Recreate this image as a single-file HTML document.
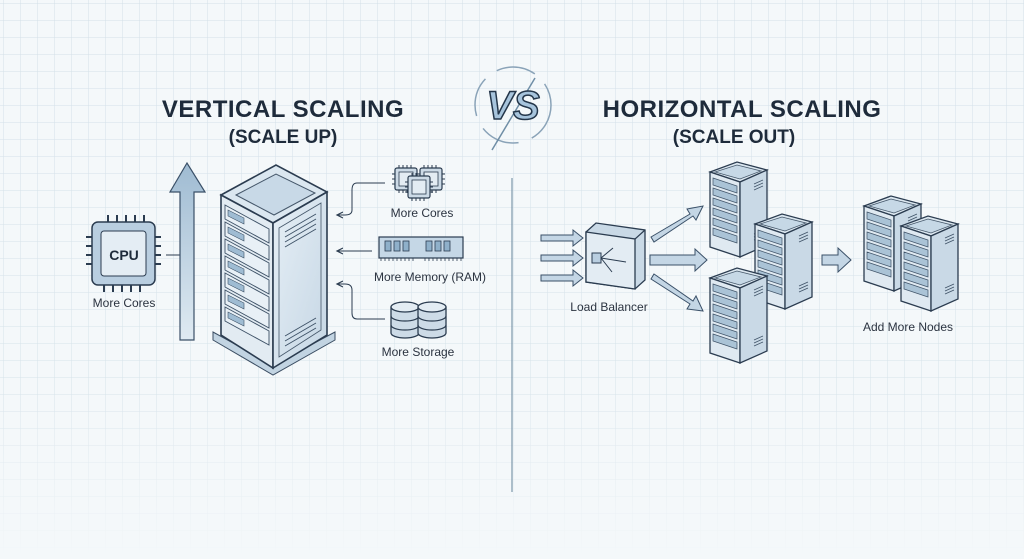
<!DOCTYPE html>
<html><head><meta charset="utf-8"><style>
html,body{margin:0;padding:0;background:#f4f8fa}
svg{display:block}
text{font-family:"Liberation Sans",sans-serif}
</style></head><body>
<svg width="1024" height="559" viewBox="0 0 1024 559" xmlns="http://www.w3.org/2000/svg">
<defs>
<pattern id="grid" width="17" height="17" patternUnits="userSpaceOnUse" x="3" y="3">
<path d="M17 0H0V17" fill="none" stroke="#d3e0e8" stroke-width="1"/>
</pattern>
<linearGradient id="fade" x1="0" y1="0" x2="0" y2="1">
<stop offset="0" stop-color="#fff" stop-opacity="1"/>
<stop offset="0.7" stop-color="#fff" stop-opacity="0.9"/>
<stop offset="1" stop-color="#fff" stop-opacity="0"/>
</linearGradient>
<mask id="m"><rect width="1024" height="559" fill="url(#fade)"/></mask>
<linearGradient id="face" x1="0" y1="0" x2="1" y2="1">
<stop offset="0" stop-color="#e6eff6"/><stop offset="1" stop-color="#c5d6e4"/>
</linearGradient>
<linearGradient id="arr" x1="0" y1="1" x2="0" y2="0">
<stop offset="0" stop-color="#dfeaf2"/><stop offset="1" stop-color="#9fbbd2"/>
</linearGradient>
<g id="srv">
<polygon points="0,10 27,0 57,8 30,20" fill="#dbe7f0" stroke="#2b3c50" stroke-width="1.3"/>
<polygon points="5,10 27,3 51,9 30,17" fill="#c6d8e6" stroke="#45576a" stroke-width="0.8"/>
<polygon points="0,10 30,20 30,95 0,85" fill="#dfe9f1" stroke="#2b3c50" stroke-width="1.3"/>
<polygon points="30,20 57,8 57,83 30,95" fill="#c9d9e6" stroke="#2b3c50" stroke-width="1.3"/>
<g fill="#aac3d6" stroke="#3d5166" stroke-width="0.7">
<polygon points="3,16 27,24 27,31 3,23"/><polygon points="3,26 27,34 27,41 3,33"/>
<polygon points="3,36 27,44 27,51 3,43"/><polygon points="3,46 27,54 27,61 3,53"/>
<polygon points="3,56 27,64 27,71 3,63"/><polygon points="3,66 27,74 27,81 3,73"/>
</g>
<g stroke="#3d5166" stroke-width="0.7">
<line x1="44" y1="22" x2="53" y2="18"/><line x1="44" y1="25" x2="53" y2="21"/><line x1="44" y1="28" x2="53" y2="24"/>
<line x1="44" y1="72" x2="53" y2="68"/><line x1="44" y1="75" x2="53" y2="71"/><line x1="44" y1="78" x2="53" y2="74"/>
</g>
</g>
<g id="cyl">
<path d="M0,6 v26 a14,5 0 0 0 28,0 v-26" fill="#cddbe7" stroke="#2b3c50" stroke-width="1.3"/>
<ellipse cx="14" cy="6" rx="14" ry="5" fill="#e3ecf3" stroke="#2b3c50" stroke-width="1.3"/>
<path d="M0,15 a14,5 0 0 0 28,0 M0,24 a14,5 0 0 0 28,0" fill="none" stroke="#2b3c50" stroke-width="1.2"/>
</g>
<g id="chip">
<rect x="0" y="0" width="22" height="22" rx="2" fill="#cddbe7" stroke="#2b3c50" stroke-width="1.2"/>
<rect x="4" y="4" width="14" height="14" fill="#e3ecf3" stroke="#2b3c50" stroke-width="0.8"/>
<path d="M4,0v-3M8,0v-3M12,0v-3M16,0v-3M4,22v3M8,22v3M12,22v3M16,22v3M0,6h-3M0,11h-3M0,16h-3M22,6h3M22,11h3M22,16h3" stroke="#2b3c50" stroke-width="1"/>
</g>
<marker id="ah" markerWidth="8" markerHeight="8" refX="6" refY="4" orient="auto"><path d="M0,1 L6,4 L0,7" fill="none" stroke="#2b3c50" stroke-width="1.2"/></marker>
</defs>
<rect width="1024" height="559" fill="#f4f8fa"/>
<rect width="1024" height="559" fill="url(#grid)" mask="url(#m)"/>

<!-- divider -->
<line x1="512" y1="178" x2="512" y2="492" stroke="#7d97ab" stroke-width="1.2"/>

<!-- titles -->
<text x="283" y="117" text-anchor="middle" font-size="24" font-weight="bold" fill="#1e2b3b" letter-spacing="0.5">VERTICAL SCALING</text>
<text x="283" y="143" text-anchor="middle" font-size="19" font-weight="bold" fill="#1e2b3b">(SCALE UP)</text>
<text x="742" y="117" text-anchor="middle" font-size="24" font-weight="bold" fill="#1e2b3b" letter-spacing="0.5">HORIZONTAL SCALING</text>
<text x="734" y="143" text-anchor="middle" font-size="19" font-weight="bold" fill="#1e2b3b">(SCALE OUT)</text>

<!-- VS -->
<circle cx="513" cy="105" r="38" fill="none" stroke="#8aa3b8" stroke-width="1.5" stroke-dasharray="40 14"/>
<line x1="535" y1="78" x2="492" y2="150" stroke="#6f8ea6" stroke-width="1.5"/>
<text x="513" y="119" text-anchor="middle" font-size="40" font-weight="bold" font-style="italic" fill="#a7c4dc" stroke="#24364a" stroke-width="1.5">VS</text>

<!-- CPU -->
<g transform="translate(92,222)">
<rect x="0" y="0" width="63" height="63" rx="6" fill="#b9cee0" stroke="#2b3c50" stroke-width="1.5"/>
<rect x="9" y="9" width="45" height="45" rx="3" fill="#e4edf4" stroke="#2b3c50" stroke-width="1"/>
<path d="M16,0v-7M25,0v-7M34,0v-7M43,0v-7M52,0v-7M12,63v7M21,63v7M30,63v7M39,63v7M48,63v7M0,15h-6M0,24h-6M0,33h-6M0,42h-6M63,15h6M63,24h6M63,33h6M63,42h6" stroke="#2b3c50" stroke-width="2"/>
<text x="32" y="38" text-anchor="middle" font-size="14" font-weight="bold" fill="#1e2b3b">CPU</text>
</g>
<text x="124" y="307" text-anchor="middle" font-size="12" fill="#2b3340">More Cores</text>
<line x1="166" y1="255" x2="182" y2="255" stroke="#2b3c50" stroke-width="1"/>

<!-- big arrow -->
<path d="M180,340 V192 H170 L187,163 L205,192 H194 V340 Z" fill="url(#arr)" stroke="#3a5068" stroke-width="1.2"/>

<!-- main server -->
<polygon points="213,340 273,375 335,340 335,332 273,365 213,332" fill="#c2d4e2" stroke="#3a4d62" stroke-width="1"/>
<polygon points="221,195 276,165 327,192 273,223" fill="#dbe7f0" stroke="#2b3c50" stroke-width="1.6"/>
<polygon points="236,195 276,174 315,193 274,215" fill="#c8d9e7" stroke="#45576a" stroke-width="1"/>
<polygon points="221,195 273,223 273,368 221,335" fill="#e2ebf2" stroke="#2b3c50" stroke-width="1.6"/>
<polygon points="273,223 327,192 327,335 273,368" fill="url(#face)" stroke="#2b3c50" stroke-width="1.6"/>
<polygon points="279,228 321,203 321,330 279,357" fill="none" stroke="#45576a" stroke-width="0.8"/>
<g fill="#e8f0f6" stroke="#3d5166" stroke-width="0.9">
<polygon points="225,205 269,229 269,243 225,219"/><polygon points="225,222 269,246 269,260 225,236"/>
<polygon points="225,239 269,263 269,277 225,253"/><polygon points="225,256 269,280 269,294 225,270"/>
<polygon points="225,273 269,297 269,311 225,287"/><polygon points="225,290 269,314 269,328 225,304"/>
<polygon points="225,307 269,331 269,345 225,321"/>
</g>
<g fill="#9fbcd3" stroke="#3d5166" stroke-width="0.6">
<polygon points="228,210 244,218 244,224 228,216"/><polygon points="228,227 244,235 244,241 228,233"/>
<polygon points="228,244 244,252 244,258 228,250"/><polygon points="228,261 244,269 244,275 228,267"/>
<polygon points="228,278 244,286 244,292 228,284"/><polygon points="228,295 244,303 244,309 228,301"/>
<polygon points="228,312 244,320 244,326 228,318"/>
</g>
<g stroke="#3d5166" stroke-width="0.9">
<line x1="285" y1="232" x2="316" y2="214"/><line x1="285" y1="237" x2="316" y2="219"/><line x1="285" y1="242" x2="316" y2="224"/><line x1="285" y1="247" x2="316" y2="229"/>
<line x1="285" y1="336" x2="316" y2="318"/><line x1="285" y1="341" x2="316" y2="323"/><line x1="285" y1="346" x2="316" y2="328"/>
</g>

<!-- right items vertical -->
<use href="#chip" x="395" y="168"/><use href="#chip" x="420" y="168"/><use href="#chip" x="408" y="176"/>
<text x="422" y="217" text-anchor="middle" font-size="12" fill="#2b3340">More Cores</text>
<path d="M385,183 H357 Q352,183 352,190 V210 Q352,215 345,215 H337" fill="none" stroke="#2b3c50" stroke-width="1" marker-end="url(#ah)"/>
<g transform="translate(379,237)">
<rect x="0" y="0" width="84" height="21" fill="#c5d7e6" stroke="#2b3c50" stroke-width="1.2"/>
<g fill="#8fb0ca" stroke="#2b3c50" stroke-width="0.8">
<rect x="6" y="4" width="6" height="10"/><rect x="15" y="4" width="6" height="10"/><rect x="24" y="4" width="6" height="10"/>
<rect x="47" y="4" width="6" height="10"/><rect x="56" y="4" width="6" height="10"/><rect x="65" y="4" width="6" height="10"/>
</g>
<path d="M2,21v3M6,21v3M10,21v3M14,21v3M18,21v3M22,21v3M26,21v3M30,21v3M34,21v3M46,21v3M50,21v3M54,21v3M58,21v3M62,21v3M66,21v3M70,21v3M74,21v3M78,21v3M82,21v3" stroke="#2b3c50" stroke-width="0.8"/>
</g>
<text x="430" y="281" text-anchor="middle" font-size="12" fill="#2b3340">More Memory (RAM)</text>
<line x1="372" y1="251" x2="337" y2="251" stroke="#2b3c50" stroke-width="1" marker-end="url(#ah)"/>
<use href="#cyl" x="391" y="301"/><use href="#cyl" x="418" y="301"/>
<text x="418" y="356" text-anchor="middle" font-size="12" fill="#2b3340">More Storage</text>
<path d="M385,319 H357 Q352,319 352,313 V290 Q352,284 345,284 H337" fill="none" stroke="#2b3c50" stroke-width="1" marker-end="url(#ah)"/>

<!-- horizontal side: incoming arrows -->
<g fill="#c4d6e5" stroke="#3a5068" stroke-width="1">
<path d="M541,235 h32 v-5 l10,8 l-10,8 v-5 h-32 z"/>
<path d="M541,255 h32 v-5 l10,8 l-10,8 v-5 h-32 z"/>
<path d="M541,275 h32 v-5 l10,8 l-10,8 v-5 h-32 z"/>
</g>
<!-- load balancer -->
<polygon points="586,232 596,223 645,230 645,280 635,289 586,282" fill="#c9d9e6" stroke="#2b3c50" stroke-width="1.3"/>
<polygon points="586,232 635,239 635,289 586,282" fill="#e3ecf3" stroke="#2b3c50" stroke-width="1.3"/>
<line x1="635" y1="239" x2="645" y2="230" stroke="#2b3c50" stroke-width="1.2"/>
<rect x="592" y="253" width="9" height="10" fill="#b9cee0" stroke="#2b3c50" stroke-width="1"/>
<path d="M601,258 L613,248 M601,258 L626,262 M601,258 L612,272" stroke="#2b3c50" stroke-width="1" fill="none"/>
<text x="609" y="311" text-anchor="middle" font-size="12" fill="#2b3340">Load Balancer</text>
<!-- out arrows -->
<g fill="#c4d6e5" stroke="#3a5068" stroke-width="1">
<path d="M651,237 L690,214 L687,209 L703,206 L696,220 L693,216 L654,242 Z"/>
<path d="M650,255 h45 v-6 l12,11 l-12,11 v-6 h-45 z"/>
<path d="M654,274 L693,301 L696,296 L703,311 L687,309 L690,304 L651,279 Z"/>
</g>
<use href="#srv" x="710" y="162"/>
<use href="#srv" x="755" y="214"/>
<use href="#srv" x="710" y="268"/>
<path d="M822,255 h16 v-7 l13,12 l-13,12 v-7 h-16 z" fill="#c4d6e5" stroke="#3a5068" stroke-width="1"/>
<use href="#srv" x="864" y="196"/>
<use href="#srv" x="901" y="216"/>
<text x="908" y="331" text-anchor="middle" font-size="12" fill="#2b3340">Add More Nodes</text>
</svg>
</body></html>
